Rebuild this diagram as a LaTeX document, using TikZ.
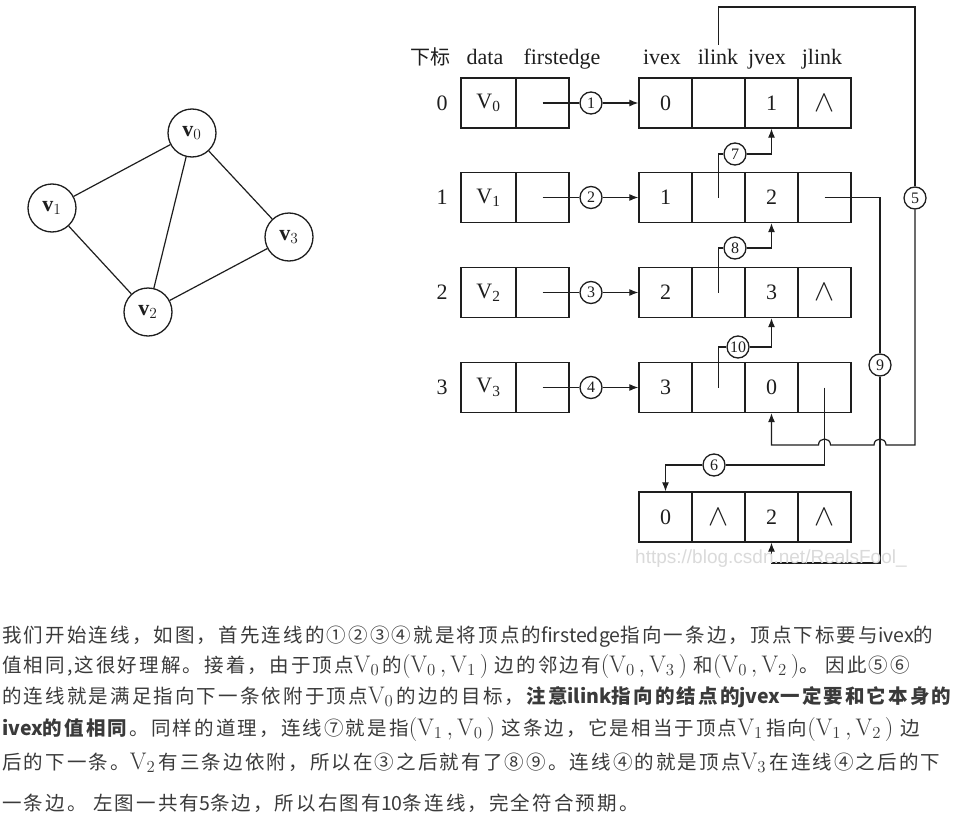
\RequirePackage{fix-cm}
\documentclass[tikz,border=0pt]{standalone}
\usepackage{fontspec}
\usetikzlibrary{arrows.meta}
\newfontfamily\cjk[LetterSpace=11]{Noto Sans CJK SC}
\newfontfamily\cjkplain{Noto Sans CJK SC}
\newfontfamily\tms{Liberation Serif}
\newfontfamily\ars{Liberation Sans}
\definecolor{ink}{HTML}{1E1E1E}
\definecolor{txt}{HTML}{3A3A3A}
\definecolor{wm}{HTML}{DADADA}
\newcommand\lt[1]{{\cjkplain #1}}
\newcommand\vx[1]{{\fontsize{24}{26}\selectfont$\mathrm{V}_{#1}$}}
\newcommand\vpair[2]{{\fontsize{24}{26}\selectfont$(\mathrm{V}_{#1}\,,\mathrm{V}_{#2}\,)$}}
\newcommand\nil{{\fontsize{30}{32}\selectfont$\wedge$}}
\begin{document}
\begin{tikzpicture}[x=1pt,y=-1pt,
  ln/.style={draw=ink,line width=1.3pt},
  cellbox/.style={ln,minimum height=50pt,inner sep=0pt,text=ink,font=\tms\fontsize{22}{24}\selectfont},
  vcell/.style={cellbox,minimum width=55pt},
  fcell/.style={cellbox,minimum width=53pt},
  ecell/.style={cellbox,minimum width=53pt},
  numc/.style={ln,circle,minimum size=22pt,inner sep=0pt,fill=white,text=ink,font=\tms\fontsize{16}{17}\selectfont},
  gnode/.style={ln,circle,minimum size=48pt,inner sep=0pt,text=ink,font=\tms\fontsize{22}{24}\selectfont},
  hdr/.style={anchor=base,inner sep=0pt,text=ink,font=\tms\fontsize{22}{24}\selectfont},
  idx/.style={inner sep=0pt,text=ink,font=\tms\fontsize{22}{24}\selectfont},
  con/.style={draw=ink,line width=1.2pt},
  arr/.style={con,-{Latex[length=9pt,width=7pt]}},
  para/.style={anchor=base west,inner sep=0pt,text=txt,font=\cjk\fontsize{19.5}{24}\selectfont}
]
\useasboundingbox[fill=white] (0,0) rectangle (957,832);

% ---------- graph ----------
\node[gnode] (g0) at (192,133) {\textbf{v}$_0$};
\node[gnode] (g1) at (52,208) {\textbf{v}$_1$};
\node[gnode] (g2) at (148,312) {\textbf{v}$_2$};
\node[gnode] (g3) at (289,237) {\textbf{v}$_3$};
\draw[con] (g0) -- (g1);
\draw[con] (g0) -- (g2);
\draw[con] (g0) -- (g3);
\draw[con] (g1) -- (g2);
\draw[con] (g2) -- (g3);

% ---------- headers ----------
\node[hdr,font=\cjkplain\fontsize{20}{24}\selectfont] (h0) at (430,65) {下标};
\node[hdr] (h1) at (485,65) {data};
\node[hdr] (h2) at (562,65) {firstedge};
\node[hdr] (h3) at (662,65) {ivex};
\node[hdr] (h4) at (718,65) {ilink};
\node[hdr] (h5) at (767,65) {jvex};
\node[hdr] (h6) at (822,65) {jlink};

% ---------- vertex table ----------
\foreach \i/\y in {0/103,1/197.5,2/292.5,3/387.5}{
  \node[idx] (ix\i) at (442,\y) {\i};
  \node[vcell] (r\i d) at (488.5,\y) {V\textsubscript{\i}};
  \node[fcell] (r\i f) at (542.5,\y) {};
}

% ---------- edge table ----------
\foreach \r/\y/\a/\b/\c/\d in {0/103/0//1/\nil, 1/197.5/1//2/, 2/292.5/2//3/\nil, 3/387.5/3//0/, 4/517/0/\nil/2/\nil}{
  \node[ecell] (e\r a) at (665.5,\y) {\a};
  \node[ecell] (e\r b) at (718.5,\y) {\b};
  \node[ecell] (e\r c) at (771.5,\y) {\c};
  \node[ecell] (e\r d) at (824.5,\y) {\d};
}

% ---------- circled labels ----------
\node[numc] (c1) at (591,103) {1};
\node[numc] (c2) at (591,197.5) {2};
\node[numc] (c3) at (591,292.5) {3};
\node[numc] (c4) at (591,387.5) {4};
\node[numc] (c5) at (915,198) {5};
\node[numc] (c6) at (714,465) {6};
\node[numc] (c7) at (735,154) {7};
\node[numc] (c8) at (735,248) {8};
\node[numc] (c9) at (880,365) {9};
\node[numc] (c10) at (738,347) {10};

% firstedge links 1-4
\foreach \i in {0,1,2,3}{
  \pgfmathtruncatemacro\k{\i+1}
  \draw[con] (r\i f.center) -- (c\k);
  \draw[arr] (c\k) -- (e\i a.west);
}

% link 5
\coordinate (p5a) at (718.5,45);
\coordinate (p5b) at (718.5,7);
\coordinate (p5c) at (915,7);
\coordinate (p5d) at (915,445);
\draw[con] (p5a) -- (p5b) -- (p5c) -- (c5);
\draw[arr] (c5) -- (p5d) -- (886,445) .. controls (886,437) and (874,437) .. (874,445)
  -- (830.5,445) .. controls (830.5,437) and (818.5,437) .. (818.5,445) -- (771.5,445) -- (e3c.south);

% link 6
\draw[con] (e3d.center) |- (c6);
\draw[arr] (c6) -| (e4a.north);

% links 7, 8, 10
\draw[con] (e1b.center) |- (c7);
\draw[arr] (c7) -| (e0c.south);
\draw[con] (e2b.center) |- (c8);
\draw[arr] (c8) -| (e1c.south);
\draw[con] (e3b.center) |- (c10);
\draw[arr] (c10) -| (e2c.south);

% link 9
\coordinate (p9) at (880,563);
\draw[con] (e1d.center) -| (c9);
\draw[arr] (c9) -- (p9) -| (e4c.south);

% watermark
\node[anchor=base west,inner sep=0pt,text=wm,font=\ars\fontsize{19}{21}\selectfont] (wmk) at (635,563) {https://blog.csdn.net/RealsFool\_};

% ---------- paragraph ----------
\node[para] (l1) at (2,642) {我们开始连线，如图，首先连线的①②③④就是将顶点的\lt{firstedge}指向一条边，顶点下标要与\lt{ivex}的};
\node[para] (l2) at (2,672) {值相同,这很好理解。接着，由于顶点\vx{0}\,的\vpair{0}{1} 边的邻边有\vpair{0}{3} 和\vpair{0}{2}。 因此⑤⑥};
\node[para] (l3) at (2,703) {的连线就是满足指向下一条依附于顶点\vx{0}\,的边的目标，\textbf{注意\lt{ilink}指向的结点的\lt{jvex}一定要和它本身的}};
\node[para] (l4) at (2,735) {\textbf{\lt{ivex}的值相同}。同样的道理，连线⑦就是指\vpair{1}{0} 这条边，它是相当于顶点\vx{1}\,指向\vpair{1}{2} 边};
\node[para] (l5) at (2,769) {后的下一条。\vx{2}\,有三条边依附，所以在③之后就有了⑧⑨。连线④的就是顶点\vx{3}\,在连线④之后的下};
\node[para] (l6) at (2,810) {一条边。 左图一共有\lt{5}条边，所以右图有\lt{10}条连线，完全符合预期。};
\end{tikzpicture}
\end{document}
